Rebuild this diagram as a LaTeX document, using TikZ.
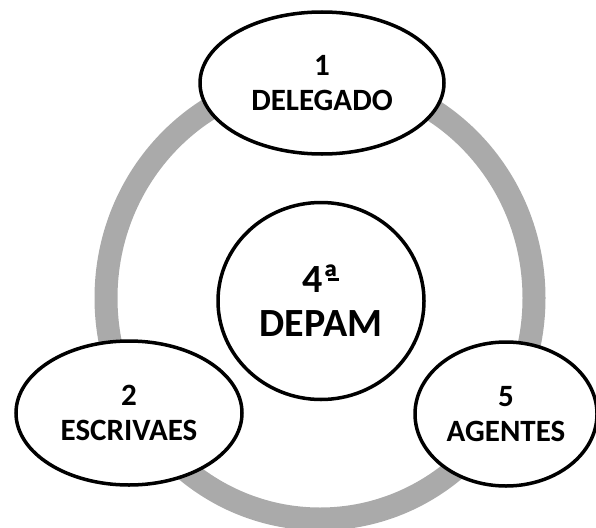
\documentclass[tikz,border=0pt]{standalone}
\usepackage{fontspec}
\setmainfont{Carlito}
\usepackage{xcolor}
\usetikzlibrary{shapes}
\definecolor{ringgray}{RGB}{170,170,170}

\begin{document}
\begin{tikzpicture}[x=1pt, y=-1pt, main node/.style={ellipse, draw, line width=3.5pt, fill=white, inner sep=0pt, align=center, font=\fontsize{31}{35}\selectfont\bfseries}, center node/.style={main node, font=\fontsize{40}{44}\selectfont\bfseries}]
\useasboundingbox (0,0) rectangle (596,527);
\coordinate (c) at (320,298);
\draw [ringgray, line width=23pt] (c) ellipse [x radius=214, y radius=221];
\node[center node, minimum width=206pt, minimum height=197pt] (0) at (321,301) {4ª\llap{\rule[0.3em]{0.28em}{0.06em}}\\DEPAM};
\node[main node, minimum width=244pt, minimum height=142pt] (1) at (322,83) {1\\DELEGADO};
\node[main node, minimum width=226pt, minimum height=144pt] (2) at (129,413) {2\\ESCRIVAES};
\node[main node, minimum width=182pt, minimum height=144pt] (5) at (506,414) {5\\AGENTES};
\end{tikzpicture}
\end{document}
